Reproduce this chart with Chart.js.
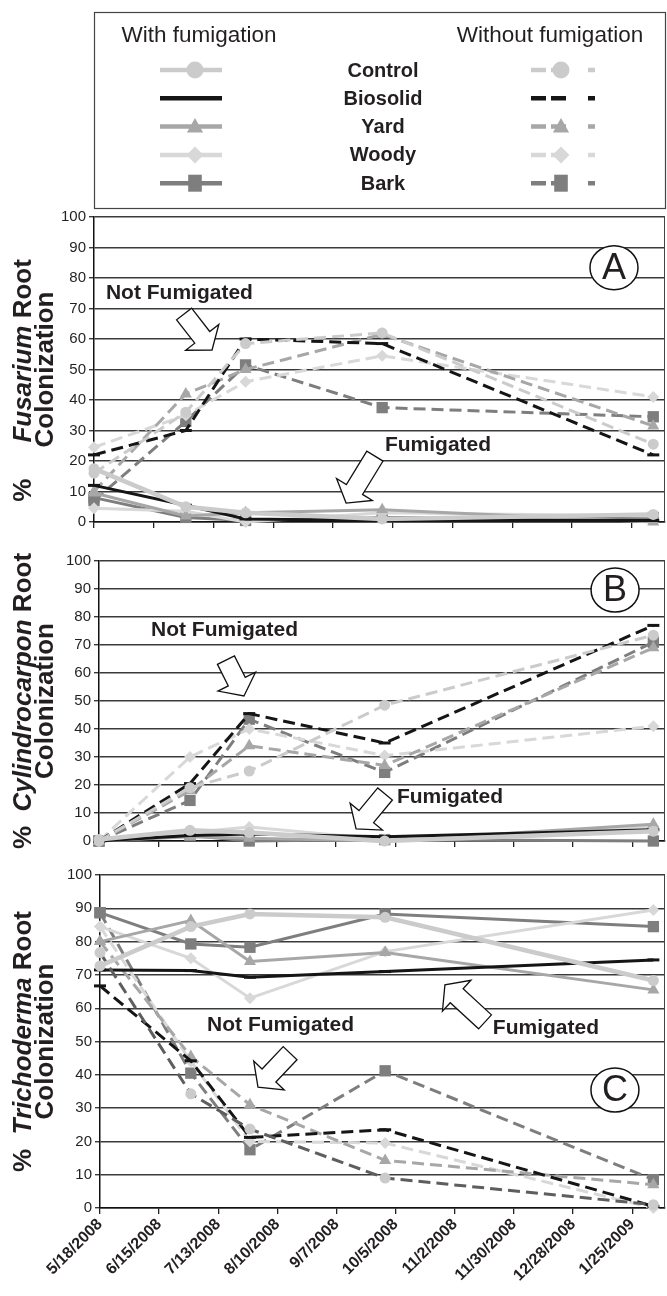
<!DOCTYPE html>
<html>
<head>
<meta charset="utf-8">
<script src="https://cdn.jsdelivr.net/npm/chart.js@4.4.1/dist/chart.umd.min.js"></script>
<style>
  html, body { margin: 0; padding: 0; background: #fff; }
  #wrap { position: relative; width: 667px; height: 1296px; overflow: hidden; }
  .panel { position: absolute; left: 0; width: 667px; }
  canvas { display: block; }
</style>
</head>
<body>
<div id="wrap">
  <div class="panel" style="top:0;height:540px"><canvas id="chartA" width="667" height="540"></canvas></div>
  <div class="panel" style="top:540px;height:315px"><canvas id="chartB" width="667" height="315"></canvas></div>
  <div class="panel" style="top:855px;height:441px"><canvas id="chartC" width="667" height="441"></canvas></div>
</div>
<script>
// --- Data ---
const treatments = ['Control', 'Biosolid', 'Yard', 'Woody', 'Bark'];
const sampleDays = [0, 43, 71, 135, 262]; // days after 5/18/2008
const tickDays = [0, 28, 56, 84, 112, 140, 168, 196, 224, 252];
const tickLabels = ['5/18/2008', '6/15/2008', '7/13/2008', '8/10/2008', '9/7/2008',
  '10/5/2008', '11/2/2008', '11/30/2008', '12/28/2008', '1/25/2009'];

// rows follow the treatments order
const fusariumWith = [
  [17.5, 5, 3, 1, 2.5],
  [12, 5.5, 1, 0.5, 0.5],
  [9.5, 2, 3, 4, 0],
  [4.5, 3.5, 0, 3, 2],
  [8, 1.5, 0.5, 1.5, 1.5]
];
const fusariumWithout = [
  [16, 36, 58.5, 62, 25.5],
  [22, 30, 60, 58.5, 22],
  [10, 42, 50, 61.5, 31.5],
  [24.5, 35, 46, 54.5, 41],
  [7, 33, 51.5, 37.5, 34.5]
];
const cylindroWith = [
  [0.5, 3.8, 3, 0, 3.5],
  [0, 2, 2.5, 1.5, 4],
  [0, 1.5, 1, 0, 6],
  [0, 3, 5, 0.5, 5],
  [0, 2, 0, 0.5, 0]
];
const cylindroWithout = [
  [0, 19, 25, 48.5, 73.5],
  [0, 20.5, 45.5, 35, 77],
  [0, 18, 34, 27, 69],
  [0, 30, 40, 30.5, 41],
  [0, 14.5, 43.5, 24.5, 71]
];
const trichoWith = [
  [72.7, 84.5, 88.3, 87.3, 68.3],
  [71.5, 71.3, 69.3, 71, 74.5],
  [80, 86.3, 74, 76.7, 65.5],
  [84.5, 75, 63, 77, 89.5],
  [88.7, 79.3, 78.3, 88.3, 84.5]
];
const trichoWithout = [
  [76.7, 34.3, 23.7, 9, 1],
  [66.7, 44.2, 21.2, 23.5, 0.5],
  [80, 45.5, 31, 14.3, 7],
  [84.5, 44, 20, 19.5, 0],
  [88.7, 40.5, 17.5, 41.2, 8.5]
];

// --- Styles ---
const FONT = "'Liberation Sans', Arial, sans-serif";
const TEXT = '#231f20';
const colors = ['#cbcbcb', '#151515', '#a7a7a7', '#d8d8d8', '#7e7e7e'];
const markers = ['circle', 'line', 'triangle', 'rectRot', 'rect'];
const markerRadius = [5.5, 6, 7, 6, 8];
const widthWith = [4.5, 3, 3, 3, 3];
const widthWithout = [3, 3, 3, 3, 3];
const dash = [12, 6];

function series(rows, i) {
  return sampleDays.map((d, k) => ({ x: d, y: rows[i][k] }));
}

function buildDatasets(withRows, withoutRows, controlDashColor) {
  const sets = [];
  treatments.forEach((name, i) => {
    const base = {
      pointStyle: markers[i],
      pointRadius: markerRadius[i],
      pointBackgroundColor: colors[i],
      pointBorderColor: colors[i],
      pointBorderWidth: markers[i] === 'line' ? 3 : 0,
      tension: 0,
      clip: false
    };
    sets.push(Object.assign({}, base, {
      label: name + ' (with fumigation)',
      data: series(withRows, i),
      borderColor: colors[i],
      borderWidth: widthWith[i]
    }));
    sets.push(Object.assign({}, base, {
      label: name + ' (without fumigation)',
      data: series(withoutRows, i),
      borderColor: (i === 0 && controlDashColor) ? controlDashColor : colors[i],
      borderWidth: widthWithout[i],
      borderDash: dash
    }));
  });
  return sets;
}

// --- Drawing helpers ---
function drawMarker(ctx, style, x, y, r, color) {
  ctx.save();
  ctx.fillStyle = color;
  ctx.beginPath();
  if (style === 'circle') {
    ctx.arc(x, y, r, 0, Math.PI * 2);
  } else if (style === 'triangle') {
    ctx.moveTo(x, y - r);
    ctx.lineTo(x + r * 0.95, y + r * 0.7);
    ctx.lineTo(x - r * 0.95, y + r * 0.7);
  } else if (style === 'rectRot') {
    ctx.moveTo(x, y - r); ctx.lineTo(x + r, y); ctx.lineTo(x, y + r); ctx.lineTo(x - r, y);
  } else if (style === 'rect') {
    ctx.rect(x - r * 0.8, y - r, r * 1.6, r * 2);
  }
  ctx.closePath();
  ctx.fill();
  ctx.restore();
}

function blockArrow(ctx, x1, y1, x2, y2) {
  const shaftW = 19, headW = 42, headL = 16;
  const len = Math.hypot(x2 - x1, y2 - y1);
  const ux = (x2 - x1) / len, uy = (y2 - y1) / len;
  const nx = -uy, ny = ux;
  const bx = x2 - ux * headL, by = y2 - uy * headL;
  const pts = [
    [x1 + nx * shaftW / 2, y1 + ny * shaftW / 2],
    [bx + nx * shaftW / 2, by + ny * shaftW / 2],
    [bx + nx * headW / 2, by + ny * headW / 2],
    [x2, y2],
    [bx - nx * headW / 2, by - ny * headW / 2],
    [bx - nx * shaftW / 2, by - ny * shaftW / 2],
    [x1 - nx * shaftW / 2, y1 - ny * shaftW / 2]
  ];
  ctx.save();
  ctx.beginPath();
  pts.forEach((p, k) => k ? ctx.lineTo(p[0], p[1]) : ctx.moveTo(p[0], p[1]));
  ctx.closePath();
  ctx.fillStyle = '#fff';
  ctx.fill();
  ctx.strokeStyle = '#111';
  ctx.lineWidth = 1.3;
  ctx.lineJoin = 'miter';
  ctx.stroke();
  ctx.restore();
}

// per-panel decorations, in data units (day, %) so they follow the scales
const decor = {
  chartA: {
    title: [['%     ', false], ['Fusarium', true], [' Root', false]],
    titleShift: 11,
    notes: [['Not Fumigated', 5.6, 75], ['Fumigated', 136.3, 25.2]],
    arrows: [[42.2, 68.2, 55.3, 56.4], [131.6, 21.6, 118.1, 6.2]],
    letter: ['A', 243.6, 83.4]
  },
  chartB: {
    title: [['%  ', false], ['Cylindrocarpon', true], [' Root', false]],
    titleShift: 0,
    notes: [['Not Fumigated', 24.6, 75.4], ['Fumigated', 140.8, 15.7]],
    arrows: [[60, 64.6, 68.5, 51.8], [135.2, 16.8, 121.5, 4.3]],
    letter: ['B', 243.9, 89.6]
  },
  chartC: {
    title: [['%  ', false], ['Trichoderma', true], [' Root', false]],
    titleShift: 0,
    notes: [['Not Fumigated', 50.7, 55], ['Fumigated', 186, 54]],
    arrows: [[90, 46.5, 74.8, 36.3], [182.3, 55.9, 163.3, 67]],
    letter: ['C', 243.8, 35.4]
  }
};

const panelDecor = {
  id: 'panelDecor',
  afterDatasetsDraw(chart) {
    const d = decor[chart.canvas.id];
    if (!d) return;
    const ctx = chart.ctx, xs = chart.scales.x, ys = chart.scales.y, area = chart.chartArea;

    // right border of plot area
    ctx.save();
    ctx.strokeStyle = '#444';
    ctx.lineWidth = 1;
    ctx.beginPath();
    ctx.moveTo(area.right - 0.5, area.top);
    ctx.lineTo(area.right - 0.5, area.bottom);
    ctx.stroke();
    ctx.restore();

    d.arrows.forEach(a => blockArrow(ctx, xs.getPixelForValue(a[0]), ys.getPixelForValue(a[1]),
      xs.getPixelForValue(a[2]), ys.getPixelForValue(a[3])));

    ctx.save();
    ctx.fillStyle = TEXT;
    ctx.font = 'bold 21px ' + FONT;
    ctx.textBaseline = 'middle';
    ctx.textAlign = 'left';
    d.notes.forEach(n => ctx.fillText(n[0], xs.getPixelForValue(n[1]), ys.getPixelForValue(n[2])));

    // circled panel letter
    const cx = xs.getPixelForValue(d.letter[1]), cy = ys.getPixelForValue(d.letter[2]);
    ctx.beginPath();
    ctx.ellipse(cx, cy, 24, 22, 0, 0, Math.PI * 2);
    ctx.fillStyle = '#fff';
    ctx.fill();
    ctx.strokeStyle = '#111';
    ctx.lineWidth = 1.5;
    ctx.stroke();
    ctx.fillStyle = TEXT;
    ctx.font = '36px ' + FONT;
    ctx.textAlign = 'center';
    ctx.fillText(d.letter[0], cx, cy + 1);
    ctx.restore();

    // rotated y-axis title with italic genus name
    ctx.save();
    const midY = (area.top + area.bottom) / 2;
    const pieces = d.title.map(p => {
      ctx.font = (p[1] ? 'italic bold 26px ' : 'bold 26px ') + FONT;
      return { t: p[0], f: ctx.font, w: ctx.measureText(p[0]).width };
    });
    const total = pieces.reduce((s, p) => s + p.w, 0);
    ctx.fillStyle = TEXT;
    ctx.textBaseline = 'alphabetic';
    ctx.translate(31, midY + d.titleShift);
    ctx.rotate(-Math.PI / 2);
    let pos = -total / 2;
    pieces.forEach(p => {
      ctx.font = p.f;
      ctx.textAlign = 'left';
      ctx.fillText(p.t, pos, 0);
      pos += p.w;
    });
    ctx.restore();
    ctx.save();
    ctx.fillStyle = TEXT;
    ctx.font = 'bold 26px ' + FONT;
    ctx.textAlign = 'center';
    ctx.translate(53, midY);
    ctx.rotate(-Math.PI / 2);
    ctx.fillText('Colonization', 0, 0);
    ctx.restore();
  }
};

// legend box drawn on the top panel's canvas
const legendBox = {
  id: 'legendBox',
  afterDraw(chart) {
    if (chart.canvas.id !== 'chartA') return;
    const ctx = chart.ctx;
    ctx.save();
    ctx.strokeStyle = '#444';
    ctx.lineWidth = 1.2;
    ctx.strokeRect(94.5, 12.5, 571, 196);
    ctx.fillStyle = TEXT;
    ctx.font = '22.5px ' + FONT;
    ctx.textBaseline = 'middle';
    ctx.textAlign = 'center';
    ctx.fillText('With fumigation', 199, 36);
    ctx.fillText('Without fumigation', 550, 36);
    treatments.forEach((name, i) => {
      const y = 70 + i * 28.3;
      ctx.fillStyle = TEXT;
      ctx.font = 'bold 20px ' + FONT;
      ctx.textAlign = 'center';
      ctx.fillText(name, 383, y + 1);
      ctx.strokeStyle = colors[i];
      ctx.lineWidth = 4.5;
      ctx.setLineDash([]);
      ctx.beginPath();
      ctx.moveTo(160, y);
      ctx.lineTo(222, y);
      ctx.stroke();
      ctx.setLineDash([15, 5, 15, 22]);
      ctx.beginPath();
      ctx.moveTo(531, y);
      ctx.lineTo(595, y);
      ctx.stroke();
      ctx.setLineDash([]);
      if (markers[i] !== 'line') {
        drawMarker(ctx, markers[i], 195, y, 8.5, colors[i]);
        drawMarker(ctx, markers[i], 561, y, 8.5, colors[i]);
      }
    });
    ctx.restore();
  }
};

function makeChart(id, datasets, opts) {
  return new Chart(document.getElementById(id), {
    type: 'line',
    data: { datasets },
    options: {
      responsive: false,
      animation: false,
      events: [],
      layout: { autoPadding: false, padding: { left: 0, right: 2, top: opts.top, bottom: 0 } },
      plugins: { legend: { display: false }, tooltip: { enabled: false } },
      scales: {
        x: {
          type: 'linear',
          min: 0,
          max: 267.5,
          afterBuildTicks: s => { s.ticks = tickDays.map(v => ({ value: v })); },
          afterFit: s => { s.height = opts.xHeight; },
          grid: { drawOnChartArea: false, drawTicks: true, tickLength: 6, color: '#222', lineWidth: 1.3 },
          border: { display: true, color: '#111', width: 1.5 },
          ticks: {
            display: opts.showDates,
            autoSkip: false,
            maxRotation: 45,
            minRotation: 45,
            padding: 1,
            color: TEXT,
            font: { family: FONT, size: 16, weight: 'bold' },
            callback: (v, i) => tickLabels[i]
          }
        },
        y: {
          min: 0,
          max: 100,
          afterFit: s => { s.width = opts.yWidth; },
          grid: { color: '#3a3a3a', lineWidth: 1.4, tickLength: 5 },
          border: { display: true, color: '#111', width: 1.5 },
          ticks: {
            stepSize: 10,
            padding: 3,
            color: TEXT,
            font: { family: FONT, size: 15 }
          }
        }
      }
    },
    plugins: [panelDecor, legendBox]
  });
}

makeChart('chartA', buildDatasets(fusariumWith, fusariumWithout),
  { top: 217, xHeight: 18, yWidth: 94, showDates: false });
makeChart('chartB', buildDatasets(cylindroWith, cylindroWithout),
  { top: 21, xHeight: 14, yWidth: 99, showDates: false });
makeChart('chartC', buildDatasets(trichoWith, trichoWithout, '#5e5e5e'),
  { top: 20, xHeight: 88, yWidth: 100, showDates: true });
</script>
</body>
</html>
